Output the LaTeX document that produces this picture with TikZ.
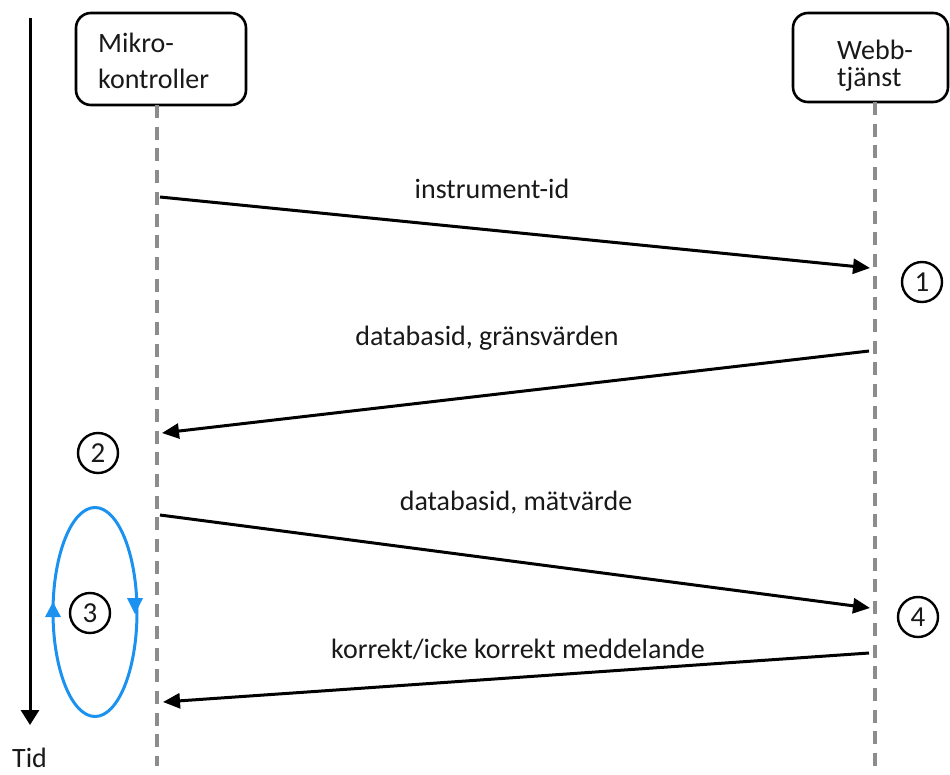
\documentclass[tikz,border=0pt]{standalone}
\usepackage{fontspec}
\setmainfont{Carlito}
\usetikzlibrary{arrows.meta}
\definecolor{loopblue}{RGB}{28,146,240}
\definecolor{lifegray}{RGB}{140,140,140}
\definecolor{txt}{RGB}{25,25,25}
\begin{document}
\begin{tikzpicture}[x=1pt,y=-1pt,
  box/.style={draw, line width=2.6pt, rounded corners=15pt, inner sep=0pt},
  lbl/.style={font=\fontsize{28}{34}\selectfont, text=txt, inner sep=0pt, anchor=base},
  lbllt/.style={lbl, anchor=base west},
  life/.style={draw=lifegray, line width=4.5pt, dash pattern=on 13pt off 8.7pt},
  msg/.style={draw, line width=3pt, -{Triangle[length=17pt,width=15pt]}},
  num/.style={draw, circle, line width=2.4pt, minimum size=40pt, inner sep=0pt, font=\fontsize{29}{32}\selectfont, text=txt},
  loop/.style={draw=loopblue, line width=3pt}
]
\useasboundingbox (0,0) rectangle (950,774);

% time axis
\coordinate (t0) at (30,18);
\coordinate (t1) at (30,725);
\draw[line width=3pt, -{Triangle[length=15pt,width=18pt]}] (t0) -- (t1);
\node[lbllt] (tid) at (12,767) {Tid};

% participants
\node[box, minimum width=170pt, minimum height=92pt] (mk) at (161,59) {};
\node[lbllt] (mk1) at (98,52) {Mikro-};
\node[lbllt] (mk2) at (98,88) {kontroller};

\node[box, minimum width=155pt, minimum height=89pt] (wt) at (870.5,57.5) {};
\node[lbllt] (wt1) at (837,59) {Webb-};
\node[lbllt] (wt2) at (837,86) {tjänst};

% lifelines
\coordinate (mkTop) at (157,105);
\coordinate (mkBot) at (157,766);
\coordinate (wtTop) at (875,102);
\coordinate (wtBot) at (875,766);
\draw[life] (mkTop) -- (mkBot);
\draw[life] (wtTop) -- (wtBot);

% messages
\coordinate (m1s) at (160,197);
\coordinate (m1e) at (870,268);
\coordinate (m2s) at (869,351);
\coordinate (m2e) at (162,433);
\coordinate (m3s) at (160,515);
\coordinate (m3e) at (870,608);
\coordinate (m4s) at (869,653);
\coordinate (m4e) at (163,702);
\draw[msg] (m1s) -- (m1e);
\draw[msg] (m2s) -- (m2e);
\draw[msg] (m3s) -- (m3e);
\draw[msg] (m4s) -- (m4e);

\node[lbl] (l1) at (492,198) {instrument-id};
\node[lbl] (l2) at (487,345) {databasid, gränsvärden};
\node[lbl] (l3) at (516,510) {databasid, mätvärde};
\node[lbl] (l4) at (518,658) {korrekt/icke korrekt meddelande};

% numbered circles
\node[num] (n1) at (922,282) {1};
\node[num] (n2) at (98,453) {2};
\node[num] (n3) at (90,613) {3};
\node[num] (n4) at (918,617) {4};

% loop
\draw[loop] (95,612) ellipse [x radius=42, y radius=104.5];
\fill[loopblue] (53,602) -- (45,617) -- (61,617) -- cycle;
\fill[loopblue] (135,614) -- (127,598) -- (143,598) -- cycle;
\end{tikzpicture}
\end{document}
